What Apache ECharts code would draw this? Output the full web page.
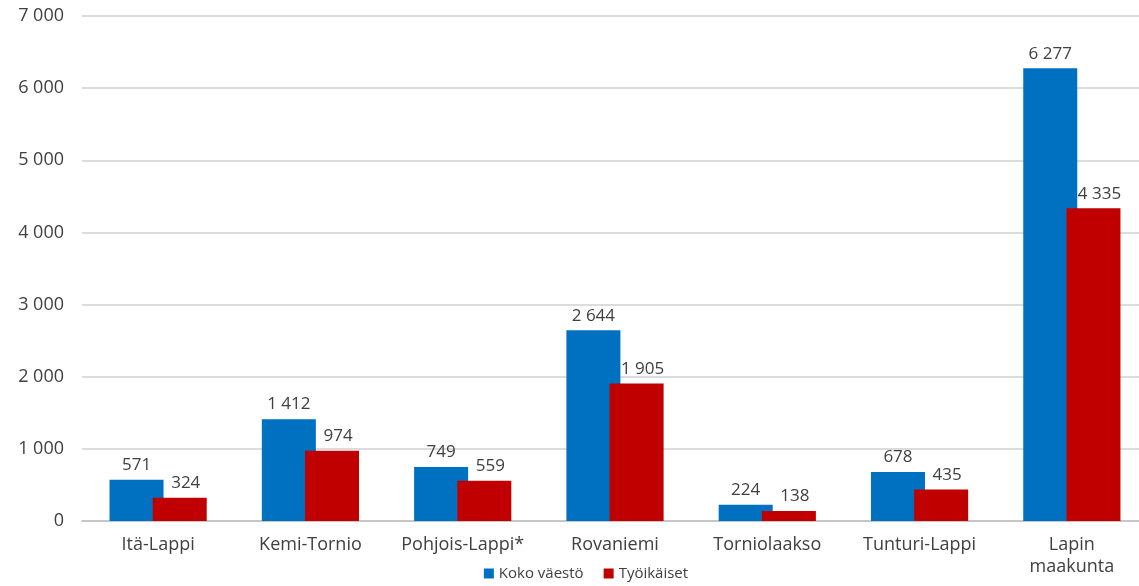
<!DOCTYPE html>
<html><head><meta charset="utf-8">
<script src="https://cdn.jsdelivr.net/npm/echarts@6/dist/echarts.min.js"></script>
<style>html,body{margin:0;padding:0;background:#fff;overflow:hidden}#c{width:1172px;height:586px}</style>
</head><body><div id="c"></div>
<script>
var categories = ["Itä-Lappi", "Kemi-Tornio", "Pohjois-Lappi*", "Rovaniemi", "Torniolaakso", "Tunturi-Lappi", "Lapin\nmaakunta"];
var kokoVaesto = [571, 1412, 749, 2644, 224, 678, 6277];
var tyoikaiset = [324, 974, 559, 1905, 138, 435, 4335];
var seriesNames = ["Koko väestö", "Työikäiset"];

function fmt(v){ return String(v).replace(/\B(?=(\d{3})+(?!\d))/g, " "); }
var FONT = "Open Sans";
var chart = echarts.init(document.getElementById('c'));
chart.setOption({
  animation: false,
  textStyle: {fontFamily: FONT},
  grid: {left: 82, right: 24, top: 16, bottom: 65, containLabel: false},
  legend: {
    bottom: 0, left: 'center', itemWidth: 10, itemHeight: 10, itemGap: 20,
    icon: 'rect',
    textStyle: {fontSize: 15, color: '#404040', fontFamily: FONT},
    data: seriesNames
  },
  xAxis: {
    type: 'category', data: categories,
    axisLine: {lineStyle: {color: '#bfbfbf', width: 1.5}},
    axisTick: {show: false},
    axisLabel: {fontSize: 18, color: '#404040', margin: 13, lineHeight: 22, interval: 0}
  },
  yAxis: {
    type: 'value', min: 0, max: 7000, interval: 1000,
    axisLine: {show: false}, axisTick: {show: false},
    splitLine: {lineStyle: {color: '#d0d0d0', width: 1.5}},
    axisLabel: {fontSize: 18, color: '#404040', margin: 18, formatter: fmt}
  },
  series: [
    {name: seriesNames[0], type: 'bar', data: kokoVaesto, barWidth: 54, barGap: '-20%',
     itemStyle: {color: '#0070C0'},
     label: {show: true, position: 'top', fontSize: 17, color: '#404040', distance: 6, formatter: function(p){return fmt(p.value);}}},
    {name: seriesNames[1], type: 'bar', data: tyoikaiset, barWidth: 54,
     itemStyle: {color: '#C00000'},
     label: {show: true, position: 'top', fontSize: 17, color: '#404040', distance: 6, offset: [6, 0], formatter: function(p){return fmt(p.value);}}}
  ]
});
</script></body></html>
